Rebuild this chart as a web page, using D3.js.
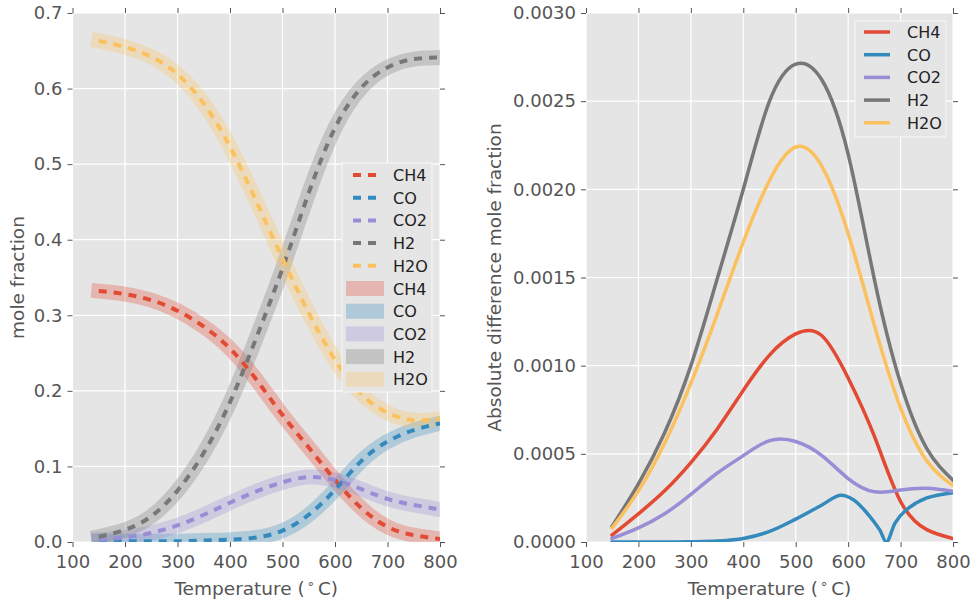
<!DOCTYPE html>
<html>
<head>
<meta charset="utf-8">
<script src="https://cdn.jsdelivr.net/npm/d3@7"></script>
<style>
  body { margin: 0; background: #fff; }
  text { font-family: "DejaVu Sans", sans-serif; }
</style>
</head>
<body>
<div id="chart"></div>
<script>
// species names and colours (ggplot style)
var species = ["CH4", "CO", "CO2", "H2", "H2O"];
var colors = ["#E24A33", "#348ABD", "#988ED5", "#777777", "#FBC15E"];

// left panel: equilibrium mole fraction vs temperature
var temps = [150, 200, 250, 300, 350, 400, 450, 500, 550, 600, 650, 700, 750, 800];
var ch4 = [0.332, 0.328, 0.320, 0.306, 0.285, 0.256, 0.215, 0.168, 0.125, 0.082, 0.045, 0.020, 0.009, 0.004];
var co  = [0.001, 0.001, 0.001, 0.001, 0.002, 0.003, 0.006, 0.015, 0.036, 0.069, 0.107, 0.133, 0.148, 0.157];
var co2 = [0.003, 0.006, 0.012, 0.022, 0.036, 0.052, 0.067, 0.079, 0.086, 0.082, 0.070, 0.057, 0.049, 0.043];
var h2  = [0.007, 0.016, 0.034, 0.068, 0.118, 0.185, 0.270, 0.362, 0.462, 0.548, 0.601, 0.628, 0.639, 0.641];
var h2o = [0.663, 0.655, 0.642, 0.619, 0.580, 0.523, 0.451, 0.375, 0.303, 0.241, 0.196, 0.171, 0.161, 0.163];

// right panel: absolute difference of mole fraction
var diffTemps = [150, 200, 250, 300, 350, 400, 450, 500, 550, 600, 650, 700, 750, 800];
var dCh4 = [0.00004, 0.00016, 0.00029, 0.00045, 0.00064, 0.00086, 0.00106, 0.00118, 0.00117, 0.00093, 0.00060, 0.00023, 0.00007, 0.00002];
var dCo2 = [0.00002, 0.00008, 0.00016, 0.00027, 0.00039, 0.00049, 0.000575, 0.00057, 0.00049, 0.00036, 0.000285, 0.000295, 0.000305, 0.000288];
var dH2  = [0.00009, 0.00033, 0.00062, 0.00100, 0.00149, 0.00200, 0.00250, 0.00271, 0.00262, 0.00220, 0.00149, 0.00090, 0.00053, 0.00035];
var dH2o = [0.00008, 0.00029, 0.00056, 0.00090, 0.00129, 0.00170, 0.00205, 0.00224, 0.00213, 0.00175, 0.00123, 0.00076, 0.00046, 0.00032];
var coTemps = [150, 200, 250, 300, 350, 400, 450, 500, 550, 585, 610, 640, 660, 673, 690, 710, 750, 800];
var dCo = [0, 0, 0, 0.000001, 0.000005, 0.00002, 0.00006, 0.00013, 0.00021, 0.000265, 0.00024, 0.00015, 0.00007, 0, 0.00011, 0.00018, 0.00025, 0.00028];

var xTicks = [100, 200, 300, 400, 500, 600, 700, 800];
var leftYTicks = [0, 0.1, 0.2, 0.3, 0.4, 0.5, 0.6, 0.7];
var rightYTicks = [0, 0.0005, 0.001, 0.0015, 0.002, 0.0025, 0.003];

var width = 972, height = 605;
var plotTop = 13, plotBottom = 542;
var bg = "#E5E5E5", tickColor = "#555555";

var svg = d3.select("#chart").append("svg")
    .attr("width", width)
    .attr("height", height);

function zip(xs, ys) {
  return xs.map(function (t, i) { return [t, ys[i]]; });
}

function makePanel(id, x0, x1, yMax, yTicks, fmt, yLabel, labelX) {
  var x = d3.scaleLinear().domain([100, 800]).range([x0, x1]);
  var y = d3.scaleLinear().domain([0, yMax]).range([plotBottom, plotTop]);
  var g = svg.append("g");

  g.append("rect")
    .attr("x", x0).attr("y", plotTop)
    .attr("width", x1 - x0).attr("height", plotBottom - plotTop)
    .attr("fill", bg);

  svg.append("clipPath").attr("id", id)
    .append("rect")
    .attr("x", x0).attr("y", plotTop)
    .attr("width", x1 - x0).attr("height", plotBottom - plotTop);

  // grid
  g.selectAll(".vgrid").data(xTicks).enter().append("line")
    .attr("x1", function (d) { return x(d); }).attr("x2", function (d) { return x(d); })
    .attr("y1", plotTop).attr("y2", plotBottom)
    .attr("stroke", "#fff").attr("stroke-width", 1.2);
  g.selectAll(".hgrid").data(yTicks).enter().append("line")
    .attr("x1", x0).attr("x2", x1)
    .attr("y1", function (d) { return y(d); }).attr("y2", function (d) { return y(d); })
    .attr("stroke", "#fff").attr("stroke-width", 1.2);

  // axes on all four sides, ticks pointing out
  var ax = [
    g.append("g").attr("transform", "translate(0," + plotBottom + ")")
      .call(d3.axisBottom(x).tickValues(xTicks).tickFormat(d3.format("d")).tickSize(5).tickPadding(8)),
    g.append("g").attr("transform", "translate(0," + plotTop + ")")
      .call(d3.axisTop(x).tickValues(xTicks).tickFormat("").tickSize(5)),
    g.append("g").attr("transform", "translate(" + x0 + ",0)")
      .call(d3.axisLeft(y).tickValues(yTicks).tickFormat(d3.format(fmt)).tickSize(5).tickPadding(5)),
    g.append("g").attr("transform", "translate(" + x1 + ",0)")
      .call(d3.axisRight(y).tickValues(yTicks).tickFormat("").tickSize(5))
  ];
  ax.forEach(function (a) {
    a.select(".domain").remove();
    a.selectAll("line").attr("stroke", tickColor);
    a.selectAll("text").attr("fill", tickColor).style("font-size", "18px")
      .style("font-family", "DejaVu Sans, sans-serif");
  });

  // axis labels
  var xl = g.append("text")
    .attr("x", (x0 + x1) / 2).attr("y", 595)
    .attr("text-anchor", "middle")
    .attr("fill", tickColor).style("font-size", "18.5px");
  xl.append("tspan").text("Temperature (");
  xl.append("tspan").text("\u2218").attr("dx", 2).attr("dy", -7).style("font-size", "13px");
  xl.append("tspan").text("C)").attr("dx", 3).attr("dy", 7);

  g.append("text")
    .attr("transform", "translate(" + labelX + "," + ((plotTop + plotBottom) / 2) + ") rotate(-90)")
    .attr("text-anchor", "middle")
    .attr("fill", tickColor).style("font-size", "18.5px")
    .text(yLabel);

  return { g: g, x: x, y: y };
}

// ---------- left panel ----------
var left = makePanel("clipL", 72.5, 440, 0.7, leftYTicks, ".1f", "mole fraction", 24);
var leftSeries = [ch4, co, co2, h2, h2o];
var lineL = d3.line()
  .x(function (d) { return left.x(d[0]); })
  .y(function (d) { return left.y(d[1]); })
  .curve(d3.curveNatural);

var plotL = left.g.append("g").attr("clip-path", "url(#clipL)");
leftSeries.forEach(function (s, i) {
  plotL.append("path")
    .attr("d", lineL(zip(temps, s)))
    .attr("fill", "none")
    .attr("stroke", colors[i])
    .attr("stroke-opacity", 0.3)
    .attr("stroke-width", 15)
    .attr("stroke-linecap", "square");
});
leftSeries.forEach(function (s, i) {
  plotL.append("path")
    .attr("d", lineL(zip(temps, s)))
    .attr("fill", "none")
    .attr("stroke", colors[i])
    .attr("stroke-width", 4)
    .attr("stroke-dasharray", "8,7");
});

// left legend
var legL = svg.append("g");
legL.append("rect")
  .attr("x", 342).attr("y", 163).attr("width", 90).attr("height", 229)
  .attr("fill", bg).attr("stroke", "#f8f8f8").attr("stroke-width", 1);
species.forEach(function (name, i) {
  var yy = 175 + 22.7 * i;
  legL.append("line")
    .attr("x1", 353).attr("x2", 376).attr("y1", yy).attr("y2", yy)
    .attr("stroke", colors[i]).attr("stroke-width", 4)
    .attr("stroke-dasharray", "8,7");
  legL.append("text").attr("x", 393).attr("y", yy + 6)
    .style("font-size", "16px").attr("fill", "#222").text(name);
});
species.forEach(function (name, i) {
  var yy = 175 + 22.7 * (i + 5);
  legL.append("rect")
    .attr("x", 346).attr("y", yy - 7.5).attr("width", 38).attr("height", 15)
    .attr("fill", colors[i]).attr("fill-opacity", 0.3);
  legL.append("text").attr("x", 393).attr("y", yy + 6)
    .style("font-size", "16px").attr("fill", "#222").text(name);
});

// ---------- right panel ----------
var right = makePanel("clipR", 586, 953, 0.003, rightYTicks, ".4f", "Absolute difference mole fraction", 501);
var rightSeries = [
  zip(diffTemps, dCh4),
  zip(coTemps, dCo),
  zip(diffTemps, dCo2),
  zip(diffTemps, dH2),
  zip(diffTemps, dH2o)
];
var lineR = d3.line()
  .x(function (d) { return right.x(d[0]); })
  .y(function (d) { return right.y(d[1]); })
  .curve(d3.curveNatural);
// CO has a sharp dip, so it gets a curve that does not ring
var lineCo = d3.line()
  .x(function (d) { return right.x(d[0]); })
  .y(function (d) { return right.y(d[1]); })
  .curve(d3.curveCatmullRom.alpha(0.5));

var plotR = right.g.append("g").attr("clip-path", "url(#clipR)");
rightSeries.forEach(function (s, i) {
  plotR.append("path")
    .attr("d", i === 1 ? lineCo(s) : lineR(s))
    .attr("fill", "none")
    .attr("stroke", colors[i])
    .attr("stroke-width", 3.5)
    .attr("stroke-linecap", "square");
});

// right legend
var legR = svg.append("g");
legR.append("rect")
  .attr("x", 855).attr("y", 21).attr("width", 91).attr("height", 116)
  .attr("fill", bg).attr("stroke", "#f8f8f8").attr("stroke-width", 1);
species.forEach(function (name, i) {
  var yy = 32 + 22.7 * i;
  legR.append("line")
    .attr("x1", 864).attr("x2", 890).attr("y1", yy).attr("y2", yy)
    .attr("stroke", colors[i]).attr("stroke-width", 3.5);
  legR.append("text").attr("x", 907).attr("y", yy + 6)
    .style("font-size", "16px").attr("fill", "#222").text(name);
});
</script>
</body>
</html>
